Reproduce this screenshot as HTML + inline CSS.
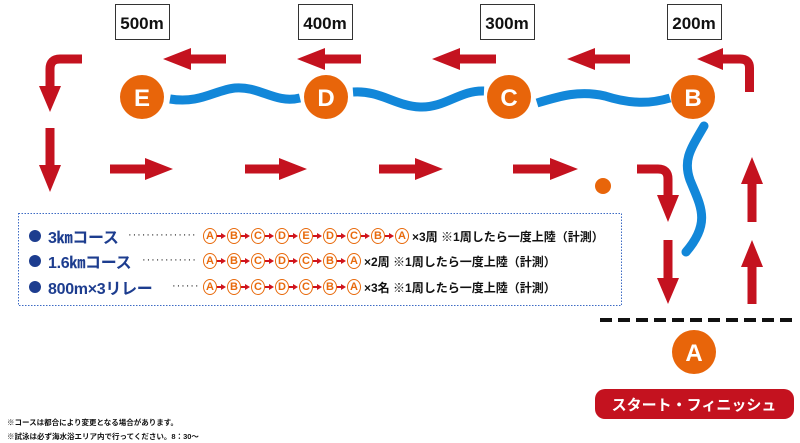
<!DOCTYPE html>
<html><head><meta charset="utf-8"><style>
body{margin:0;width:800px;height:443px;background:#fff;overflow:hidden;position:relative;font-family:"Liberation Sans","Noto Sans CJK JP",sans-serif}
svg{position:absolute;left:0;top:0}
.row{position:absolute;left:29px;height:18px;display:flex;align-items:center;white-space:nowrap}
.seq{position:absolute;left:203px;height:18px;display:flex;align-items:center;white-space:nowrap}
.dt{position:absolute;height:18px;line-height:16px;color:#222;font-size:11px;letter-spacing:0.9px;white-space:nowrap}
.bul{width:12px;height:12px;border-radius:50%;background:#1d3d8f;margin-right:7px}
.t{color:#1d3d8f;font-weight:bold;font-size:16px;letter-spacing:-0.3px}
.c{display:inline-block;width:12px;height:14px;border:1.3px solid #e86a0c;border-radius:50%;color:#e86a0c;font-size:11px;line-height:14px;text-align:center;font-weight:bold}
.a{display:inline-block;width:0;height:0;border-left:5px solid #d0141c;border-top:3.5px solid transparent;border-bottom:3.5px solid transparent;margin:0 1px 0 4px;position:relative}
.a:before{content:"";position:absolute;left:-9px;top:-1.2px;width:4px;height:2.5px;background:#d0141c}
.k{font-size:12px;font-weight:bold;color:#111;margin-left:3px}
.fn{position:absolute;left:7px;font-size:7.5px;color:#111;font-weight:bold}
</style></head><body>
<svg width="800" height="443" viewBox="0 0 800 443">
<g fill="#fff" stroke="#333" stroke-width="1">
<rect x="115.5" y="4.5" width="54" height="35"/><rect x="298.5" y="4.5" width="54" height="35"/>
<rect x="480.5" y="4.5" width="54" height="35"/><rect x="667.5" y="4.5" width="54" height="35"/>
</g>
<g font-size="17" font-weight="bold" fill="#111" text-anchor="middle">
<text x="142" y="29">500m</text><text x="325" y="29">400m</text><text x="507" y="29">300m</text><text x="694" y="29">200m</text>
</g>
<g fill="#c4121f">
<polygon points="163,59 191,48 191,54.5 226,54.5 226,63.5 191,63.5 191,70"/>
<polygon points="297,59 325,48 325,54.5 361,54.5 361,63.5 325,63.5 325,70"/>
<polygon points="432,59 460,48 460,54.5 496,54.5 496,63.5 460,63.5 460,70"/>
<polygon points="567,59 595,48 595,54.5 630,54.5 630,63.5 595,63.5 595,70"/>
<polygon points="697,59 723,48 723,70"/>
<polygon points="173,169 145,158 145,164.5 110,164.5 110,173.5 145,173.5 145,180"/>
<polygon points="307,169 279,158 279,164.5 245,164.5 245,173.5 279,173.5 279,180"/>
<polygon points="443,169 415,158 415,164.5 379,164.5 379,173.5 415,173.5 415,180"/>
<polygon points="578,169 550,158 550,164.5 513,164.5 513,173.5 550,173.5 550,180"/>
<polygon points="39,86 61,86 50,112"/>
<polygon points="50,192 39,165 45.5,165 45.5,128 54.5,128 54.5,165 61,165"/>
<polygon points="657,195 679,195 668,222"/>
<polygon points="668,304 657,278 663.5,278 663.5,240 672.5,240 672.5,278 679,278"/>
<polygon points="752,157 741,184 747.5,184 747.5,222 756.5,222 756.5,184 763,184"/>
<polygon points="752,240 741,267 747.5,267 747.5,304 756.5,304 756.5,267 763,267"/>
</g>
<g fill="none" stroke="#c4121f" stroke-width="9">
<path d="M722,59 H740 Q749.5,59 749.5,68 V92"/>
<path d="M82,59 H60 Q50,59 50,69 V87"/>
<path d="M637,169 H658 Q668,169 668,179 V196"/>
</g>
<g fill="none" stroke="#1287d9" stroke-width="9">
<path d="M170,99 C200,104 215,90 235,88 C260,86 275,104 300,98"/>
<path d="M353,92 C380,90 395,106 420,107 C445,108 460,90 484,91"/>
<path d="M537,103 C560,96 580,90 605,96 C630,104 650,104 670,98"/>
<path d="M704,126 C690,150 683,160 690,180 C700,205 712,222 686,252" stroke-linecap="round"/>
</g>
<g fill="#e8650a">
<circle cx="142" cy="97" r="22"/><circle cx="326" cy="97" r="22"/><circle cx="509" cy="97" r="22"/>
<circle cx="693" cy="97" r="22"/><circle cx="694" cy="352" r="22"/><circle cx="603" cy="186" r="8"/>
</g>
<g fill="#fff" font-size="24" font-weight="bold" text-anchor="middle">
<text x="142" y="106">E</text><text x="326" y="106">D</text><text x="509" y="106">C</text><text x="693" y="106">B</text><text x="694" y="361">A</text>
</g>
<line x1="600" y1="320" x2="792" y2="320" stroke="#111" stroke-width="4" stroke-dasharray="12,6"/>
<rect x="18.5" y="213.5" width="603" height="92" fill="none" stroke="#3d6bc4" stroke-width="1" stroke-dasharray="1.5,1.5"/>
<rect x="595" y="389" width="199" height="30" rx="10" fill="#c4121f"/>
<text x="694" y="410" fill="#fff" font-size="15" font-weight="bold" text-anchor="middle">スタート・フィニッシュ</text>
</svg>
<div class="row" style="top:227px"><span class="bul"></span><span class="t">3㎞コース</span></div>
<div class="dt" style="top:227px;left:128px">···············</div>
<div class="seq" style="top:227px"><span class="c">A</span><span class="a"></span><span class="c">B</span><span class="a"></span><span class="c">C</span><span class="a"></span><span class="c">D</span><span class="a"></span><span class="c">E</span><span class="a"></span><span class="c">D</span><span class="a"></span><span class="c">C</span><span class="a"></span><span class="c">B</span><span class="a"></span><span class="c">A</span><span class="k">×3周 ※1周したら一度上陸（計測）</span></div>
<div class="row" style="top:252px"><span class="bul"></span><span class="t">1.6㎞コース</span></div>
<div class="dt" style="top:252px;left:142px">············</div>
<div class="seq" style="top:252px"><span class="c">A</span><span class="a"></span><span class="c">B</span><span class="a"></span><span class="c">C</span><span class="a"></span><span class="c">D</span><span class="a"></span><span class="c">C</span><span class="a"></span><span class="c">B</span><span class="a"></span><span class="c">A</span><span class="k">×2周 ※1周したら一度上陸（計測）</span></div>
<div class="row" style="top:278px"><span class="bul"></span><span class="t">800m×3リレー</span></div>
<div class="dt" style="top:278px;left:172px">······</div>
<div class="seq" style="top:278px"><span class="c">A</span><span class="a"></span><span class="c">B</span><span class="a"></span><span class="c">C</span><span class="a"></span><span class="c">D</span><span class="a"></span><span class="c">C</span><span class="a"></span><span class="c">B</span><span class="a"></span><span class="c">A</span><span class="k">×3名 ※1周したら一度上陸（計測）</span></div>
<div class="fn" style="top:417px">※コースは都合により変更となる場合があります。</div>
<div class="fn" style="top:431px">※試泳は必ず海水浴エリア内で行ってください。8：30～</div>
</body></html>
